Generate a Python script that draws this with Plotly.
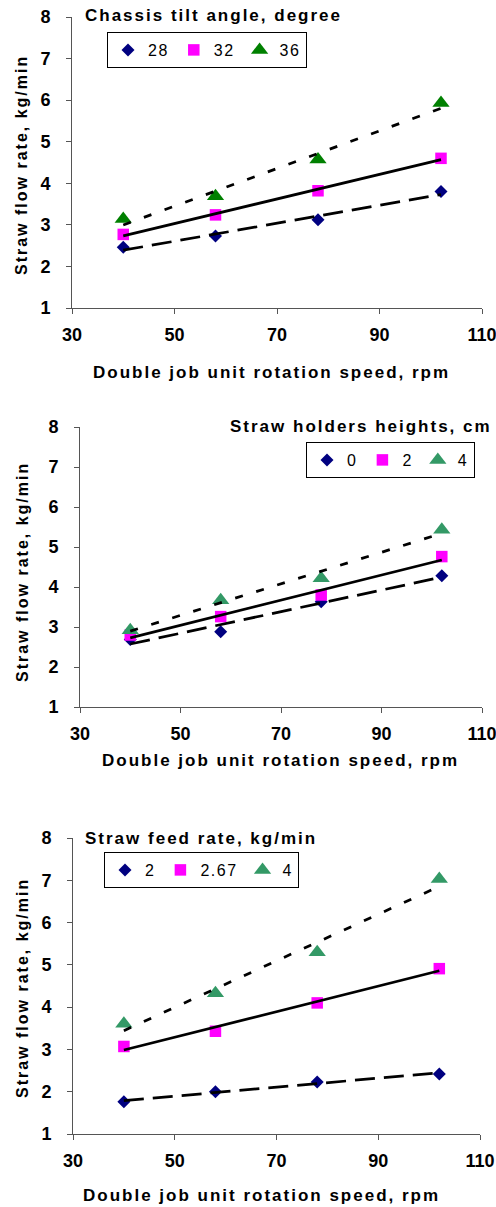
import numpy as np
import plotly.graph_objects as go

# ---------------- data ----------------
speed = [40, 58, 78, 102]  # double job unit rotation speed, rpm

tilt_title = "Chassis tilt angle, degree"
tilt_labels = ["28", "32", "36"]
tilt_28 = [2.46, 2.73, 3.12, 3.80]
tilt_32 = [2.77, 3.24, 3.82, 4.60]
tilt_36 = [3.14, 3.69, 4.57, 5.93]

holder_title = "Straw holders heights, cm"
holder_labels = ["0", "2", "4"]
holder_0 = [2.69, 2.88, 3.63, 4.28]
holder_2 = [2.80, 3.26, 3.80, 4.76]
holder_4 = [2.92, 3.67, 4.22, 5.43]

feed_title = "Straw feed rate, kg/min"
feed_labels = ["2", "2.67", "4"]
feed_2 = [1.76, 2.00, 2.23, 2.42]
feed_267 = [3.07, 3.43, 4.10, 4.91]
feed_4 = [3.61, 4.33, 5.30, 7.03]

x_tick_vals = [30, 50, 70, 90, 110]
y_tick_vals = [1, 2, 3, 4, 5, 6, 7, 8]
x_title = "Double job unit rotation speed, rpm"
y_title = "Straw flow rate, kg/min"

# ---------------- styles ----------------
W, H = 496, 1207
FONT = "Liberation Sans, Arial, sans-serif"
NAVY, MAGENTA, GREEN, SEAGREEN = "#000080", "#FF00FF", "#008000", "#339966"
DASH_LONG = "20px,9px"
DASH_SHORT = "8px,14px"


def sp(text, ls=2):
    return f'<span style="letter-spacing:{ls}px">{text}</span>'


def px_x(p):
    return p / W


def px_y(p):
    return 1 - p / H


panels = [
    dict(series=[tilt_28, tilt_32, tilt_36], labels=tilt_labels, title=tilt_title,
         colors=[NAVY, MAGENTA, GREEN], xdom=(72, 482), ydom=(17, 308),
         legend=(107, 32), title_pos=(83, 16, "left"), xt=(271, 373), yt=(22, 165)),
    dict(series=[holder_0, holder_2, holder_4], labels=holder_labels, title=holder_title,
         colors=[NAVY, MAGENTA, SEAGREEN], xdom=(80, 482), ydom=(427, 707),
         legend=(306, 442), title_pos=(494, 427, "right"), xt=(280, 760), yt=(22, 572)),
    dict(series=[feed_2, feed_267, feed_4], labels=feed_labels, title=feed_title,
         colors=[NAVY, MAGENTA, SEAGREEN], xdom=(73, 480), ydom=(838, 1134),
         legend=(104, 852), title_pos=(83, 838, "left"), xt=(261, 1195), yt=(22, 988)),
]

symbols = ["diamond", "square", "triangle-up"]
sizes = [10, 11.5, 15]
dashes = [DASH_LONG, "solid", DASH_SHORT]

fig = go.Figure()
layout = dict(
    width=W, height=H, margin=dict(l=0, r=0, t=0, b=0, autoexpand=False),
    paper_bgcolor="white", plot_bgcolor="white", showlegend=True,
    font=dict(family=FONT, color="black"),
    annotations=[],
)

for i, p in enumerate(panels):
    n = "" if i == 0 else str(i + 1)
    xa, ya = "x" + n, "y" + n
    leg = "legend" + n
    for j, vals in enumerate(p["series"]):
        fig.add_trace(go.Scatter(
            x=speed, y=vals, mode="markers", name=sp(p["labels"][j], 1.5),
            marker=dict(symbol=symbols[j], size=sizes[j], color=p["colors"][j],
                        line=dict(width=0)),
            xaxis=xa, yaxis=ya, legend=leg, showlegend=True,
        ))
    for j, vals in enumerate(p["series"]):
        coef = np.polyfit(speed, vals, 1)
        xs = [min(speed), max(speed)]
        ys = list(np.polyval(coef, xs))
        fig.add_trace(go.Scatter(
            x=xs, y=ys, mode="lines", showlegend=False, hoverinfo="skip",
            line=dict(color="black", width=2.75, dash=dashes[j]),
            xaxis=xa, yaxis=ya,
        ))

    axis_common = dict(
        showgrid=False, zeroline=False, showline=True, linecolor="#555555", linewidth=1,
        ticks="outside", ticklen=5, tickcolor="#555555", tickwidth=1,
        tickfont=dict(family=FONT, size=18, color="black", weight="bold"),
        ticklabeloverflow="allow",
    )
    layout["xaxis" + n] = dict(
        axis_common, domain=[px_x(p["xdom"][0]), px_x(p["xdom"][1])],
        range=[30, 110], tickvals=x_tick_vals, anchor=ya, ticklabelstandoff=5,
    )
    layout["yaxis" + n] = dict(
        axis_common, domain=[px_y(p["ydom"][1]), px_y(p["ydom"][0])],
        range=[1, 8], tickvals=y_tick_vals, anchor=xa, ticklabelstandoff=12,
    )
    layout[leg] = dict(
        x=px_x(p["legend"][0]), y=px_y(p["legend"][1]), xanchor="left", yanchor="top",
        orientation="h", bordercolor="black", borderwidth=1, bgcolor="white",
        font=dict(family=FONT, size=16, color="black"), itemwidth=30,
    )
    tx, ty, anc = p["title_pos"]
    layout["annotations"].append(dict(
        text=sp("<b>" + p["title"] + "</b>"), x=px_x(tx), y=px_y(ty), xref="paper", yref="paper",
        xanchor=anc, yanchor="middle", showarrow=False,
        font=dict(family=FONT, size=17, color="black"),
    ))
    layout["annotations"].append(dict(
        text=sp("<b>" + x_title + "</b>"), x=px_x(p["xt"][0]), y=px_y(p["xt"][1]),
        xref="paper", yref="paper", xanchor="center", yanchor="middle", showarrow=False,
        font=dict(family=FONT, size=17, color="black"),
    ))
    layout["annotations"].append(dict(
        text=sp("<b>" + y_title + "</b>"), x=px_x(p["yt"][0]), y=px_y(p["yt"][1]),
        xref="paper", yref="paper", xanchor="center", yanchor="middle", showarrow=False,
        textangle=-90, font=dict(family=FONT, size=16, color="black"),
    ))

fig.update_layout(**layout)
fig.write_html(
    "out.html",
    config={"displayModeBar": False},
    post_script="document.body.style.margin='0px';document.body.style.overflow='hidden';",
)
